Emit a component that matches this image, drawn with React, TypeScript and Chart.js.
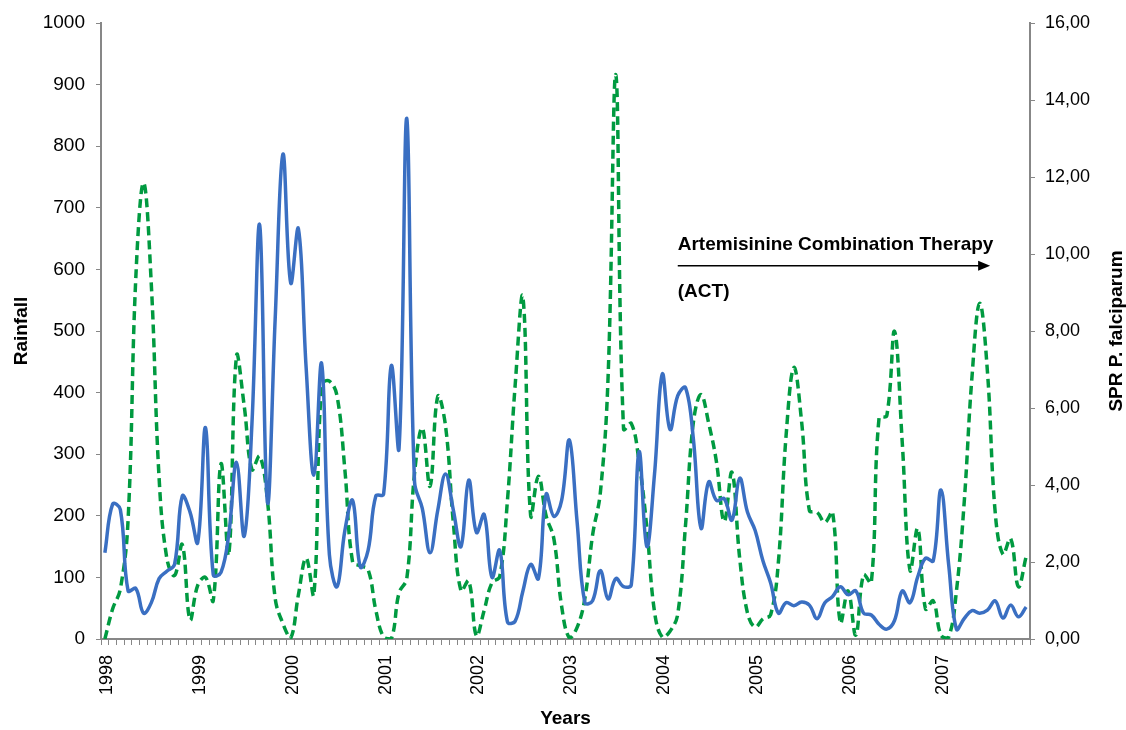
import React, { useEffect, useRef } from 'react';
import { Chart, registerables } from 'chart.js';

Chart.register(...registerables);

// ---- Data ----
const years = ['1998', '1999', '2000', '2001', '2002', '2003', '2004', '2005', '2006', '2007'];

// Monthly rainfall (mm), Jan 1998 .. Dec 2007
const rainfall = [
  140, 219, 210, 78, 82, 42, 59, 98, 110, 121, 232, 206,
  157, 343, 104, 108, 170, 287, 167, 350, 672, 222, 520, 787,
  578, 666, 440, 266, 447, 137, 85, 176, 225, 117, 144, 232,
  235, 444, 310, 845, 255, 212, 140, 209, 268, 210, 150, 258,
  173, 202, 100, 144, 28, 29, 78, 121, 98, 235, 199, 225,
  323, 190, 59, 62, 111, 65, 98, 85, 88, 304, 150, 268,
  430, 340, 395, 408, 327, 180, 255, 225, 228, 193, 261, 206,
  176, 127, 91, 42, 59, 54, 60, 55, 33, 59, 69, 85,
  72, 78, 42, 39, 24, 16, 30, 78, 59, 101, 131, 127,
  242, 120, 16, 33, 46, 42, 47, 62, 34, 55, 36, 52,
];

// Monthly slide positivity rate, P. falciparum
const sprFalciparum = [
  0, 0.78, 1.3, 3.1, 9.4, 11.85, 9.2, 4.2, 2.1, 1.65, 2.45, 0.5,
  1.4, 1.6, 1.0, 4.55, 2.2, 7.35, 6.05, 4.4, 4.75, 3.6, 1.05, 0.4,
  0.02, 1.15, 2.1, 1.15, 6.6, 6.7, 6.3, 4.4, 2.0, 1.9, 1.8, 0.75,
  0.05, 0, 1.2, 1.57, 4.3, 5.48, 3.97, 6.3, 5.54, 3.05, 1.25, 1.51,
  0.08, 0.75, 1.46, 1.62, 3.6, 6.6, 8.88, 3.2, 4.23, 3.2, 2.6, 0.85,
  0.03, 0.3, 1.05, 2.7, 3.8, 6.8, 14.65, 5.45, 5.6, 4.6, 2.9, 0.7,
  0.05, 0.2, 0.65, 2.95, 5.6, 6.35, 5.6, 4.6, 3.05, 4.33, 2.1, 0.68,
  0.31, 0.52, 0.63, 2.0, 5.3, 7.05, 5.64, 3.34, 3.29, 3.03, 3.29, 0.42,
  1.25, 0.1, 1.67, 1.46, 5.74, 5.8, 7.99, 5.1, 1.78, 2.87, 0.78, 0.99,
  0.1, 0.05, 1.25, 3.55, 6.79, 8.72, 6.95, 3.3, 2.2, 2.61, 1.36, 2.14,
];

const rainfallTicks = { min: 0, max: 1000, step: 100 };
const sprTicks = { min: 0, max: 16, step: 2 };

const FONT = '"Liberation Sans", Arial, Helvetica, sans-serif';
const AXIS_GREY = '#878787';
const BLUE = '#3A6FC2';
const GREEN = '#009A40';

// one label per month, the year on January
const monthLabels: string[] = [];
years.forEach((y) => {
  for (let m = 0; m < 12; m++) monthLabels.push(m === 0 ? y : '');
});

const overlayPlugin = {
  id: 'overlayText',
  afterDraw(chart: any) {
    const { ctx, chartArea, scales } = chart;
    const xs = scales.x;
    const ys = scales.y;
    ctx.save();
    // right axis title
    ctx.fillStyle = '#000';
    ctx.font = `bold 19px ${FONT}`;
    ctx.textAlign = 'center';
    ctx.textBaseline = 'middle';
    ctx.translate(1117, (chartArea.top + chartArea.bottom) / 2);
    ctx.rotate(-Math.PI / 2);
    ctx.fillText('SPR P. falciparum', 0, 0);
    ctx.restore();

    // ACT annotation
    const xStart = xs.getPixelForValue(74);
    const x114 = xs.getPixelForValue(114);
    const x115 = xs.getPixelForValue(115);
    const xEnd = x114 + 0.35 * (x115 - x114);
    const yText = ys.getPixelForValue(640);
    const yArrow = ys.getPixelForValue(606);
    const yAct = ys.getPixelForValue(563);
    ctx.save();
    ctx.fillStyle = '#000';
    ctx.strokeStyle = '#000';
    ctx.font = `bold 19px ${FONT}`;
    ctx.textAlign = 'left';
    ctx.textBaseline = 'middle';
    ctx.fillText('Artemisinine Combination Therapy', xStart, yText);
    ctx.fillText('(ACT)', xStart, yAct);
    ctx.lineWidth = 1.5;
    ctx.beginPath();
    ctx.moveTo(xStart, yArrow);
    ctx.lineTo(xEnd - 10, yArrow);
    ctx.stroke();
    ctx.beginPath();
    ctx.moveTo(xEnd, yArrow);
    ctx.lineTo(xEnd - 12, yArrow - 5);
    ctx.lineTo(xEnd - 12, yArrow + 5);
    ctx.closePath();
    ctx.fill();
    ctx.restore();
  },
};

export default function App() {
  const canvasRef = useRef<HTMLCanvasElement | null>(null);

  useEffect(() => {
    document.body.style.margin = '0';
    const canvas = canvasRef.current;
    if (!canvas) return;
    const chart = new Chart(canvas, {
      type: 'line',
      data: {
        labels: monthLabels,
        datasets: [
          {
            label: 'Rainfall',
            data: rainfall,
            yAxisID: 'y',
            borderColor: BLUE,
            borderWidth: 3.5,
            pointRadius: 0,
            tension: 0.4,
            fill: false,
          },
          {
            label: 'SPR P. falciparum',
            data: sprFalciparum,
            yAxisID: 'y1',
            borderColor: GREEN,
            borderWidth: 3.5,
            borderDash: [9, 5],
            pointRadius: 0,
            tension: 0.4,
            fill: false,
          },
        ],
      },
      options: {
        animation: false,
        responsive: false,
        maintainAspectRatio: false,
        layout: { padding: { top: 23, left: 0, right: 0, bottom: 0 } },
        plugins: { legend: { display: false }, tooltip: { enabled: false } },
        scales: {
          x: {
            type: 'category',
            offset: true,
            grid: {
              offset: true,
              drawOnChartArea: false,
              drawTicks: true,
              tickLength: 6,
              color: AXIS_GREY,
              lineWidth: 1,
            },
            border: { color: AXIS_GREY, width: 2 },
            ticks: {
              autoSkip: false,
              maxRotation: 90,
              minRotation: 90,
              padding: 10,
              labelOffset: 2,
              color: '#000',
              font: { family: FONT, size: 18 },
            },
            title: {
              display: true,
              text: 'Years',
              color: '#000',
              font: { family: FONT, size: 19, weight: 'bold' },
              padding: { top: 0, bottom: 0 },
            },
            afterFit: (s: any) => {
              s.height = 91;
            },
          },
          y: {
            position: 'left',
            min: rainfallTicks.min,
            max: rainfallTicks.max,
            grid: { drawOnChartArea: false, tickLength: 5, color: AXIS_GREY },
            border: { color: AXIS_GREY, width: 2 },
            ticks: {
              stepSize: rainfallTicks.step,
              padding: 11,
              color: '#000',
              font: { family: FONT, size: 19 },
              callback: (v: any) => String(v),
            },
            title: {
              display: true,
              text: 'Rainfall',
              color: '#000',
              font: { family: FONT, size: 19, weight: 'bold' },
              padding: { top: 10, bottom: 0 },
            },
            afterFit: (s: any) => {
              s.width = 101;
            },
          },
          y1: {
            position: 'right',
            min: sprTicks.min,
            max: sprTicks.max,
            grid: { drawOnChartArea: false, tickLength: 5, color: AXIS_GREY },
            border: { color: AXIS_GREY, width: 2 },
            ticks: {
              stepSize: sprTicks.step,
              padding: 10,
              color: '#000',
              font: { family: FONT, size: 18 },
              callback: (v: any) => Number(v).toFixed(2).replace('.', ','),
            },
            afterFit: (s: any) => {
              s.width = 96;
            },
          },
        },
      },
      plugins: [overlayPlugin],
    });
    return () => chart.destroy();
  }, []);

  return (
    <div style={{ width: 1126, height: 730, background: '#fff' }}>
      <canvas ref={canvasRef} width={1126} height={730} style={{ display: 'block' }} />
    </div>
  );
}
